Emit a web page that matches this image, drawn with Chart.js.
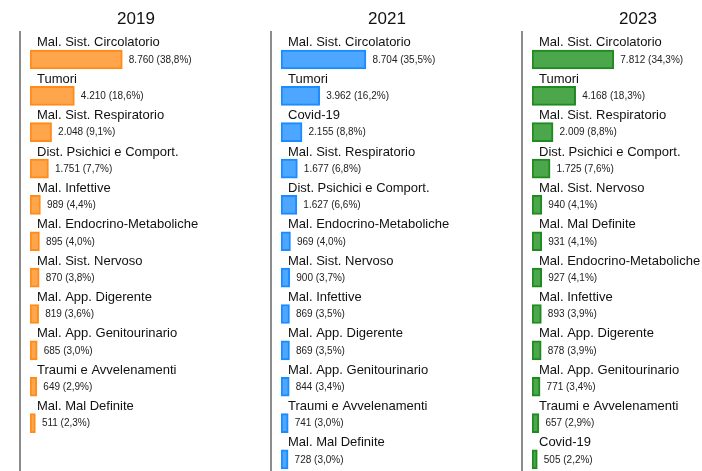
<!DOCTYPE html>
<html>
<head>
<meta charset="utf-8">
<script src="https://cdn.jsdelivr.net/npm/chart.js@4/dist/chart.umd.min.js"></script>
<style>
  html, body { margin: 0; padding: 0; background: #fff; overflow: hidden; }
  #wrap { position: relative; width: 702px; height: 471px; overflow: hidden; }
  #wrap canvas { position: absolute; top: 0; }
</style>
</head>
<body>
<div id="wrap">
  <canvas id="chart2019" width="251" height="480" style="left:0px"></canvas>
  <canvas id="chart2021" width="251" height="480" style="left:251px"></canvas>
  <canvas id="chart2023" width="251" height="480" style="left:502px"></canvas>
</div>
<script>
// data
const labels2019 = ["Mal. Sist. Circolatorio", "Tumori", "Mal. Sist. Respiratorio", "Dist. Psichici e Comport.",
  "Mal. Infettive", "Mal. Endocrino-Metaboliche", "Mal. Sist. Nervoso", "Mal. App. Digerente",
  "Mal. App. Genitourinario", "Traumi e Avvelenamenti", "Mal. Mal Definite"];
const values2019 = [8760, 4210, 2048, 1751, 989, 895, 870, 819, 685, 649, 511];
const perc2019 = ["38,8", "18,6", "9,1", "7,7", "4,4", "4,0", "3,8", "3,6", "3,0", "2,9", "2,3"];

const labels2021 = ["Mal. Sist. Circolatorio", "Tumori", "Covid-19", "Mal. Sist. Respiratorio",
  "Dist. Psichici e Comport.", "Mal. Endocrino-Metaboliche", "Mal. Sist. Nervoso", "Mal. Infettive",
  "Mal. App. Digerente", "Mal. App. Genitourinario", "Traumi e Avvelenamenti", "Mal. Mal Definite"];
const values2021 = [8704, 3962, 2155, 1677, 1627, 969, 900, 869, 869, 844, 741, 728];
const perc2021 = ["35,5", "16,2", "8,8", "6,8", "6,6", "4,0", "3,7", "3,5", "3,5", "3,4", "3,0", "3,0"];

const labels2023 = ["Mal. Sist. Circolatorio", "Tumori", "Mal. Sist. Respiratorio", "Dist. Psichici e Comport.",
  "Mal. Sist. Nervoso", "Mal. Mal Definite", "Mal. Endocrino-Metaboliche", "Mal. Infettive",
  "Mal. App. Digerente", "Mal. App. Genitourinario", "Traumi e Avvelenamenti", "Covid-19"];
const values2023 = [7812, 4168, 2009, 1725, 940, 931, 927, 893, 878, 771, 657, 505];
const perc2023 = ["34,3", "18,3", "8,8", "7,6", "4,1", "4,1", "4,1", "3,9", "3,9", "3,4", "2,9", "2,2"];

Chart.defaults.font.family = "'Liberation Sans', Arial, sans-serif";

const slot = 36.36;

// 8760 -> "8.760"
function fmtNum(n) {
  return String(n).replace(/\B(?=(\d{3})+(?!\d))/g, ".");
}

// title, left axis line, category labels above bars, value labels beside bars
const panelDecor = {
  id: 'panelDecor',
  afterDatasetsDraw(chart, args, opts) {
    const ctx = chart.ctx;
    const meta = chart.getDatasetMeta(0);
    ctx.save();

    ctx.strokeStyle = '#666';
    ctx.lineWidth = 1.5;
    ctx.beginPath();
    ctx.moveTo(20, 31);
    ctx.lineTo(20, chart.height);
    ctx.stroke();

    ctx.fillStyle = '#111';
    ctx.font = "17px 'Liberation Sans', Arial, sans-serif";
    ctx.textAlign = 'center';
    ctx.textBaseline = 'middle';
    ctx.fillText(opts.title, 136, 19);

    meta.data.forEach((bar, i) => {
      const top = bar.y - bar.height / 2;
      ctx.textAlign = 'left';
      ctx.textBaseline = 'alphabetic';
      ctx.fillStyle = '#111';
      ctx.font = "13px 'Liberation Sans', Arial, sans-serif";
      ctx.fillText(chart.data.labels[i], chart.chartArea.left + 7, top - 3.5);

      ctx.textBaseline = 'middle';
      ctx.fillStyle = '#222';
      ctx.font = "10px 'Liberation Sans', Arial, sans-serif";
      const v = chart.data.datasets[0].data[i];
      ctx.fillText(fmtNum(v) + " (" + opts.perc[i] + "%)", bar.x + 6.5, bar.y + 0.5);
    });
    ctx.restore();
  }
};

function makePanel(id, title, labels, values, perc, fill, border, xMax) {
  const ctx = document.getElementById(id).getContext('2d');
  const bottomPad = 480 - (41.3 + labels.length * slot);
  return new Chart(ctx, {
    type: 'bar',
    data: {
      labels: labels,
      datasets: [{
        data: values,
        backgroundColor: fill,
        borderColor: border,
        borderWidth: 2,
        borderSkipped: false,
        barThickness: 19
      }]
    },
    options: {
      indexAxis: 'y',
      responsive: false,
      animation: false,
      layout: { padding: { left: 30, right: 21, top: 41.3, bottom: bottomPad } },
      scales: {
        x: { display: false, min: 0, max: xMax },
        y: { display: false }
      },
      plugins: {
        legend: { display: false },
        tooltip: { enabled: false },
        panelDecor: { title: title, perc: perc }
      }
    },
    plugins: [panelDecor]
  });
}

makePanel('chart2019', '2019', labels2019, values2019, perc2019, '#ffa64d', '#ff8c1a', 18980);
makePanel('chart2021', '2021', labels2021, values2021, perc2021, '#4da6ff', '#1a8cff', 20500);
makePanel('chart2023', '2023', labels2023, values2023, perc2023, '#4ca64c', '#1f8a1f', 19100);
</script>
</body>
</html>
